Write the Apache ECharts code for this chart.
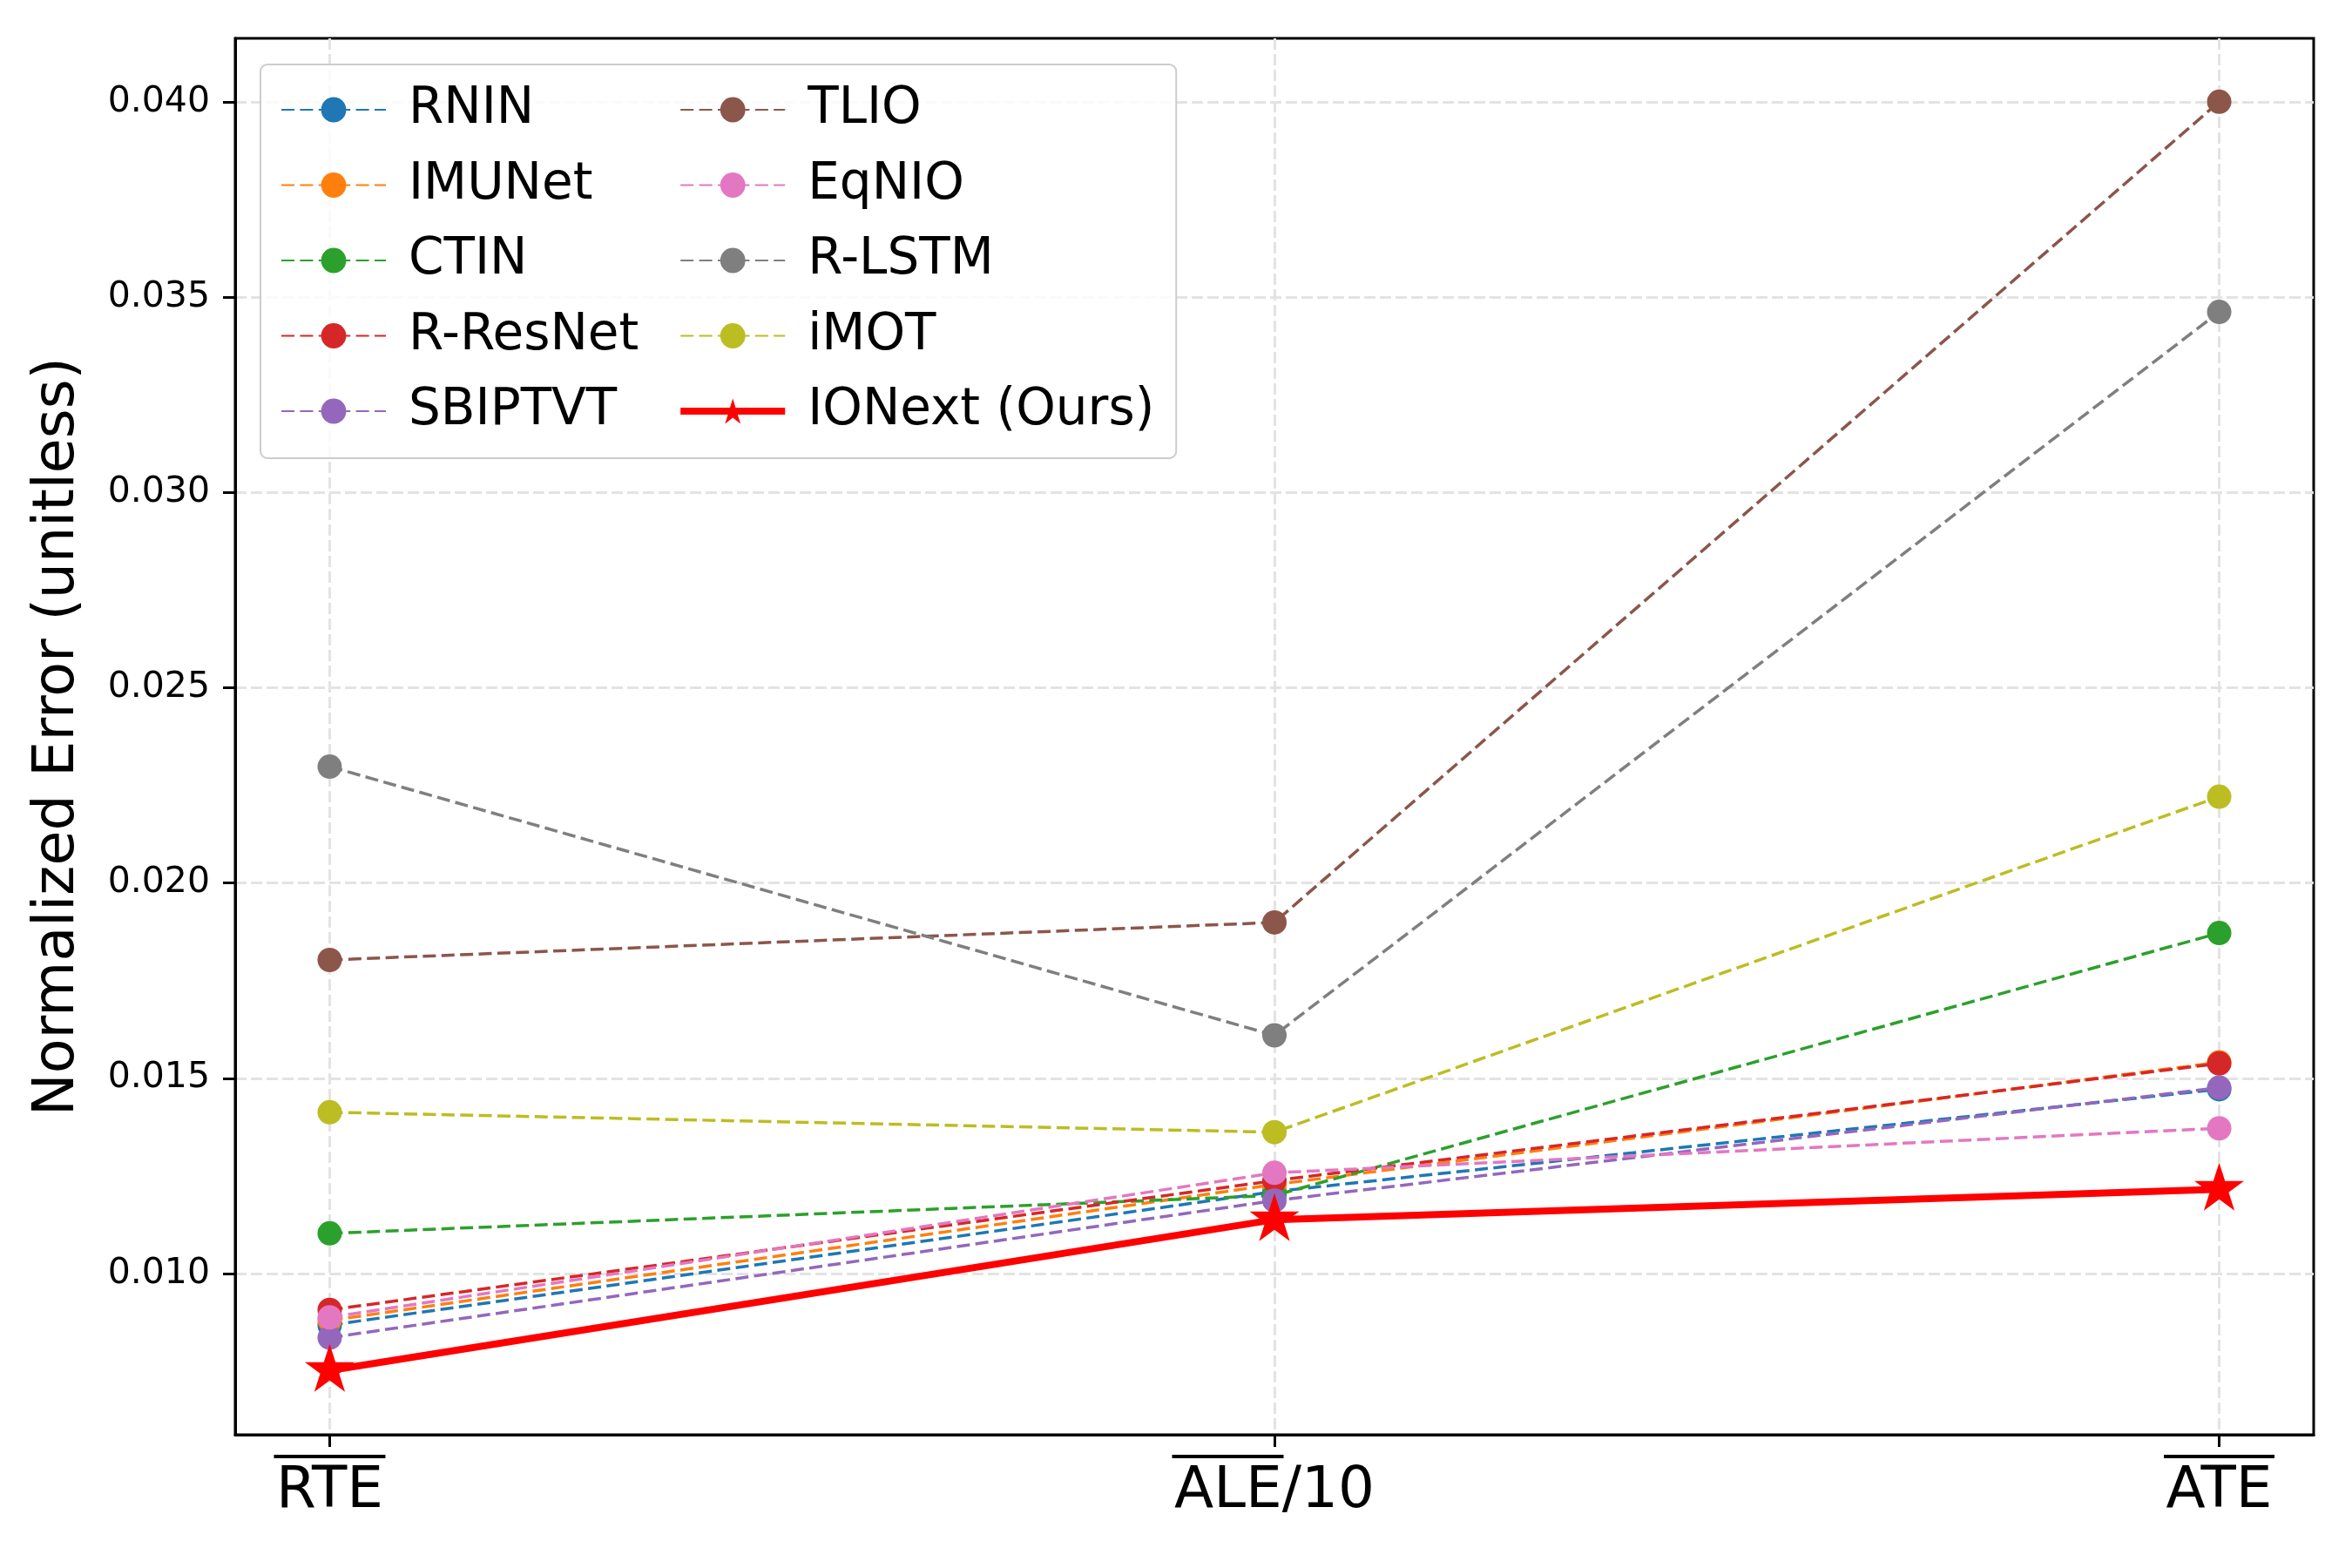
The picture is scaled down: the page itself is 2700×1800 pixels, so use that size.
<!DOCTYPE html>
<html><head><meta charset="utf-8">
<script src="https://cdn.jsdelivr.net/npm/echarts@6/dist/echarts.min.js"></script>
<style>html,body{margin:0;padding:0;background:#fff}#c{width:2700px;height:1800px}</style>
</head><body><div id="c"></div>
<script>
// ---- data ----
const categories = ['RTE', 'ALE/10', 'ATE'];
const overlinedPart = ['RTE', 'ALE', 'ATE'];
const plainPart = ['', '/10', ''];
const yTicks = [0.010, 0.015, 0.020, 0.025, 0.030, 0.035, 0.040];
const xTicks = [0, 1, 2];

const RNIN     = [0.00868, 0.01210, 0.01472];
const IMUNet   = [0.00880, 0.01228, 0.01541];
const CTIN     = [0.01103, 0.01200, 0.01872];
const RResNet  = [0.00907, 0.01238, 0.01538];
const SBIPTVT  = [0.00836, 0.01187, 0.01476];
const TLIO     = [0.01803, 0.01899, 0.04000];
const EqNIO    = [0.00888, 0.01258, 0.01372];
const RLSTM    = [0.02298, 0.01610, 0.03462];
const iMOT     = [0.01413, 0.01362, 0.02221];
const IONext   = [0.00752, 0.01138, 0.01216];

const seriesNames = ['RNIN','IMUNet','CTIN','R-ResNet','SBIPTVT','TLIO','EqNIO','R-LSTM','iMOT','IONext (Ours)'];
const seriesValues = [RNIN, IMUNet, CTIN, RResNet, SBIPTVT, TLIO, EqNIO, RLSTM, iMOT, IONext];
const seriesColors = ['#1f77b4','#ff7f0e','#2ca02c','#d62728','#9467bd','#8c564b','#e377c2','#7f7f7f','#bcbd22','#ff0000'];

// ---- chart ----
const starPath = 'path://M0,-1 L0.2245,-0.309 L0.951,-0.309 L0.363,0.118 L0.588,0.809 L0,0.382 L-0.588,0.809 L-0.363,0.118 L-0.951,-0.309 L-0.2245,-0.309 Z';
const FONT = 'DejaVu Sans';
const XFS = 66;
const LFS = 58;

// measure text widths for the overline bars
const mctx = document.createElement('canvas').getContext('2d');
mctx.font = XFS + 'px "' + FONT + '"';
const tw = s => (s ? Math.ceil(mctx.measureText(s).width) : 0);

const rich = {
  t: { fontSize: XFS, fontFamily: FONT, color: '#000', lineHeight: 72 }
};
overlinedPart.forEach((s, i) => {
  rich['ol' + i] = { width: tw(s) + 4, height: 4, lineHeight: 10, backgroundColor: '#000' };
  rich['sp' + i] = { width: tw(plainPart[i]), height: 4, lineHeight: 10 };
});

const series = seriesNames.map((name, i) => {
  const ours = i === seriesNames.length - 1;
  return {
    name: name,
    type: 'line',
    data: seriesValues[i].map((v, k) => [xTicks[k], v]),
    symbol: ours ? starPath : 'circle',
    symbolSize: ours ? [57, 55] : 28,
    symbolOffset: ours ? [0, -3] : [0, 0],
    showSymbol: true,
    lineStyle: ours ? { color: seriesColors[i], width: 8, type: 'solid' }
                    : { color: seriesColors[i], width: 3.5, type: [15, 6.4] },
    itemStyle: { color: seriesColors[i], borderWidth: 0 },
    emphasis: { disabled: true },
    z: 3 + i
  };
});

const chart = echarts.init(document.getElementById('c'), null, { renderer: 'canvas' });
chart.setOption({
  backgroundColor: '#ffffff',
  animation: false,
  grid: { left: 270, right: 44, top: 44, bottom: 153, show: true, borderColor: '#000', borderWidth: 3, backgroundColor: 'transparent' },
  xAxis: {
    type: 'value', min: -0.1, max: 2.1,
    axisLine: { show: true, onZero: false, lineStyle: { color: '#000', width: 3 } },
    axisTick: { show: true, customValues: xTicks, length: 14, lineStyle: { color: '#000', width: 3 } },
    axisLabel: {
      customValues: xTicks, margin: 20,
      formatter: v => {
        const i = Math.round(v);
        const top = plainPart[i] ? '{ol' + i + '| }{sp' + i + '| }' : '{ol' + i + '| }';
        return top + '\n{t|' + categories[i] + '}';
      },
      rich: rich
    },
    splitLine: { show: true, lineStyle: { color: '#e3e3e3', width: 3, type: [13, 5] } }
  },
  yAxis: {
    type: 'value', min: 0.005875, max: 0.041625,
    axisLine: { show: true, onZero: false, lineStyle: { color: '#000', width: 3 } },
    axisTick: { show: true, customValues: yTicks, length: 14, lineStyle: { color: '#000', width: 3 } },
    axisLabel: { customValues: yTicks, formatter: v => v.toFixed(3), fontSize: 41, fontFamily: FONT, color: '#000', margin: 29 },
    splitLine: { show: true, lineStyle: { color: '#e3e3e3', width: 3, type: [13, 5] } },
    name: 'Normalized Error (unitless)', nameLocation: 'middle', nameGap: 170,
    nameTextStyle: { fontSize: 65, fontFamily: FONT, color: '#000' }
  },
  legend: {
    type: 'plain', orient: 'vertical',
    left: 299, top: 74, height: 420,
    padding: [23, 25, 25, 23],
    itemWidth: 120, itemHeight: 36, itemGap: 28.5,
    backgroundColor: 'rgba(255,255,255,0.8)', borderColor: '#cccccc', borderWidth: 2, borderRadius: 8,
    formatter: name => (seriesNames.indexOf(name) < 5 ? name + '\u00a0' : name),
    textStyle: { fontSize: LFS, fontFamily: FONT, color: '#000', padding: [0, 0, 0, 21] },
    data: seriesNames.map((n, i) => i === seriesNames.length - 1 ? { name: n, lineStyle: { width: 8 } } : n)
  },
  series: series
});
</script></body></html>
